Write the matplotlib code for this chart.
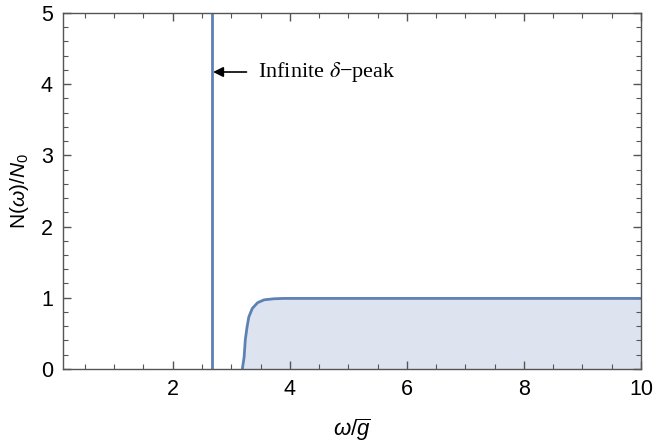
import matplotlib
matplotlib.use("Agg")
import matplotlib.pyplot as plt
from matplotlib.ticker import MultipleLocator

# values
peak_omega = 2.67
cont_omega = [3.19, 3.20, 3.21, 3.22, 3.24, 3.27, 3.30, 3.36, 3.45, 3.56,
              3.73, 3.90, 4.50, 6.00, 8.00, 10.00]
cont_dos = [0.00, 0.06, 0.11, 0.17, 0.41, 0.59, 0.73, 0.85, 0.93, 0.97,
            0.985, 0.99, 0.99, 0.99, 0.99, 0.99]
x_ticks = [2, 4, 6, 8, 10]
y_ticks = [0, 1, 2, 3, 4, 5]

line_col = "#5E81B5"
fill_col = "#DEE4EF"
frame_col = "#555555"

plt.rcParams['font.family'] = 'Liberation Sans'
plt.rcParams['mathtext.fontset'] = 'custom'
plt.rcParams['mathtext.rm'] = 'Liberation Sans'
plt.rcParams['mathtext.it'] = 'Liberation Sans:italic'

fig = plt.figure(figsize=(6.53, 4.45), dpi=100)
ax = fig.add_axes([0.096, 0.171, 0.8856, 0.80])

ax.fill_between(cont_omega, cont_dos, 0, color=fill_col, lw=0)
ax.plot(cont_omega, cont_dos, color=line_col, lw=2)
ax.axvline(peak_omega, color=line_col, lw=2)

ax.annotate(r'Infinite $\delta$−peak', xy=(peak_omega + 0.02, 4.17),
            xytext=(3.45, 4.17), va='center', ha='left',
            family='Liberation Serif', fontsize=16, math_fontfamily='stix',
            arrowprops=dict(arrowstyle='-|>', color='black', lw=1.2,
                            mutation_scale=15, shrinkA=6, shrinkB=0))

ax.set_xlim(0.12, 10)
ax.set_ylim(0, 5)
ax.set_xticks(x_ticks)
ax.set_yticks(y_ticks)
ax.xaxis.set_minor_locator(MultipleLocator(0.5))
ax.yaxis.set_minor_locator(MultipleLocator(0.2))
ax.tick_params(which='both', direction='in', top=True, right=True,
               color=frame_col, labelsize=15.5, pad=7)
ax.tick_params(which='major', length=6, width=1)
ax.tick_params(which='minor', length=3.5, width=0.8)
for s in ax.spines.values():
    s.set_color(frame_col)
    s.set_linewidth(1)

ax.set_xlabel(r'$\omega/\overline{g}$', fontsize=16, labelpad=12)
ax.set_ylabel(r'N($\omega$)/$N_0$', fontsize=15)
ax.yaxis.set_label_coords(-0.055, 0.5)

fig.savefig("out.png", dpi=100)
